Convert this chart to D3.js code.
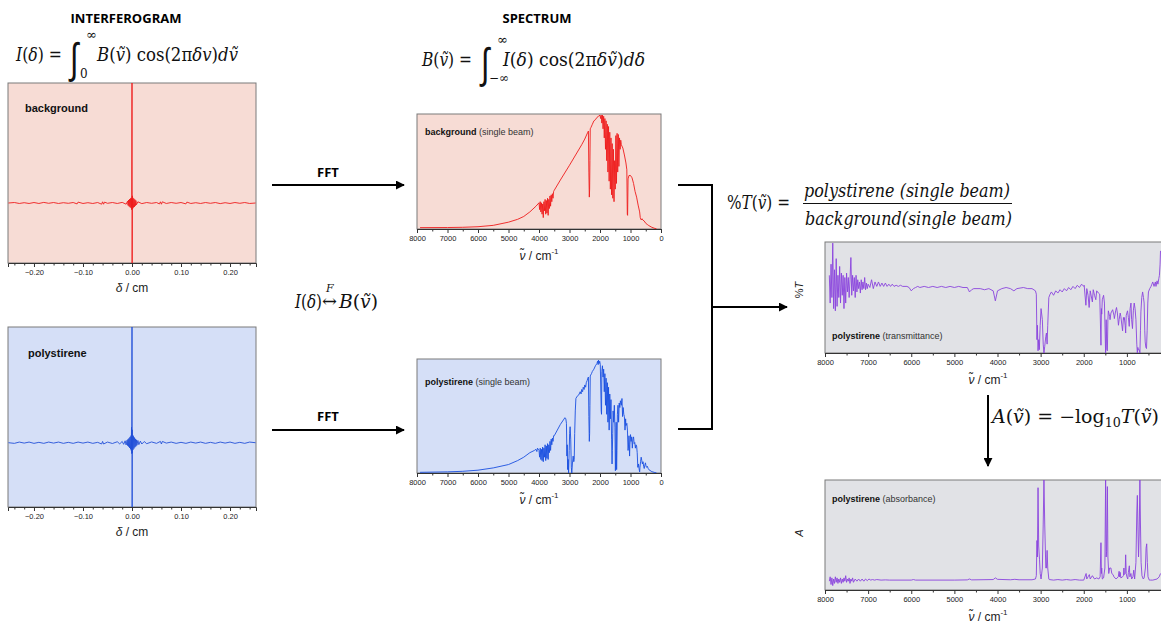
<!DOCTYPE html>
<html><head><meta charset="utf-8">
<script src="https://cdn.jsdelivr.net/npm/d3@7"></script>
<style>body{margin:0;background:#fff}svg{display:block}</style>
</head><body><svg id="c" width="1161" height="623"></svg>
<script>
// ---------------- DATA ----------------
const igramTicks = [-0.2, -0.1, 0, 0.1, 0.2];
const igramMinorTicks = [-0.24,-0.22,-0.18,-0.16,-0.14,-0.12,-0.08,-0.06,-0.04,-0.02,0.02,0.04,0.06,0.08,0.12,0.14,0.16,0.18,0.22,0.24];
const wnTicks = [8000,7000,6000,5000,4000,3000,2000,1000,0];
const wnTicksCut = [8000,7000,6000,5000,4000,3000,2000,1000];
const wnMinorTicks = [7500,6500,5500,4500,3500,2500,1500,500];

// interferogram of background (delta in cm, relative intensity)
const bgInterferogram = [
[-0.252,0],[-0.24,0.008],[-0.23,-0.008],[-0.22,0.005],[-0.21,-0.008],[-0.20,0.008],[-0.19,-0.008],[-0.18,0.01],[-0.17,-0.005],[-0.16,0.008],
[-0.15,-0.008],[-0.14,0.005],[-0.13,-0.005],[-0.12,0.008],[-0.112,-0.015],[-0.11,0.015],[-0.10,-0.008],[-0.09,0.005],[-0.08,-0.008],[-0.07,0.008],
[-0.062,-0.02],[-0.06,0.02],[-0.058,-0.02],[-0.056,0.015],[-0.05,-0.005],[-0.04,0.008],[-0.03,-0.008],[-0.02,0.01],[-0.012,-0.02],[-0.009,0.03],
[-0.008,-0.04],[-0.007,0.05],[-0.006,-0.055],[-0.005,0.065],[-0.004,-0.07],[-0.003,0.075],[-0.002,-0.08],[-0.0015,0.085],[-0.001,-0.11],[-0.0005,0.13],
[0,2.0],[0.0003,-1.0],[0.0008,0.12],[0.0012,-0.1],[0.002,0.085],[0.003,-0.075],[0.004,0.07],[0.005,-0.065],[0.006,0.055],[0.007,-0.045],
[0.008,0.04],[0.009,-0.03],[0.012,0.02],[0.02,-0.01],[0.03,0.008],[0.04,-0.005],[0.05,0.008],[0.056,-0.015],[0.058,0.02],[0.06,-0.02],
[0.062,0.02],[0.07,-0.008],[0.08,0.008],[0.09,-0.005],[0.10,0.008],[0.11,-0.015],[0.112,0.015],[0.12,-0.008],[0.13,0.005],[0.14,-0.008],
[0.15,0.008],[0.16,-0.005],[0.17,0.008],[0.18,-0.01],[0.19,0.005],[0.20,-0.008],[0.21,0.008],[0.22,-0.005],[0.23,0.008],[0.24,-0.008],[0.252,0]
];

// interferogram of polystyrene
const psInterferogram = [
[-0.252,0],[-0.24,-0.01],[-0.23,0.01],[-0.22,-0.006],[-0.21,0.01],[-0.20,-0.01],[-0.19,0.006],[-0.18,-0.01],[-0.17,0.01],[-0.16,-0.006],
[-0.15,0.01],[-0.14,-0.01],[-0.13,0.006],[-0.12,-0.01],[-0.11,0.01],[-0.10,-0.006],[-0.09,0.01],[-0.08,-0.01],[-0.07,0.006],[-0.062,-0.02],
[-0.06,0.02],[-0.058,-0.02],[-0.05,0.01],[-0.04,-0.012],[-0.03,0.015],[-0.025,-0.018],[-0.02,0.02],[-0.017,-0.025],[-0.014,0.03],[-0.012,-0.035],
[-0.010,0.04],[-0.009,-0.045],[-0.008,0.055],[-0.007,-0.06],[-0.006,0.07],[-0.005,-0.08],[-0.004,0.09],[-0.003,-0.1],[-0.002,0.11],[-0.0015,-0.12],
[-0.001,0.24],[-0.0005,-0.17],[0,1.8],[0.0003,-1.0],[0.0006,0.2],[0.001,-0.16],[0.0015,0.12],[0.002,-0.11],[0.003,0.1],[0.004,-0.09],
[0.005,0.08],[0.006,-0.07],[0.007,0.06],[0.008,-0.055],[0.009,0.045],[0.010,-0.04],[0.012,0.035],[0.014,-0.03],[0.017,0.025],[0.02,-0.02],
[0.025,0.018],[0.03,-0.015],[0.04,0.012],[0.05,-0.01],[0.058,0.02],[0.06,-0.02],[0.062,0.02],[0.07,-0.006],[0.08,0.01],[0.09,-0.01],
[0.10,0.006],[0.11,-0.01],[0.12,0.01],[0.13,-0.006],[0.14,0.01],[0.15,-0.01],[0.16,0.006],[0.17,-0.01],[0.18,0.01],[0.19,-0.006],
[0.20,0.01],[0.21,-0.01],[0.22,0.006],[0.23,-0.01],[0.24,0.01],[0.252,0]
];

// single-beam spectrum of background (wavenumber, relative intensity 0..1)
const bgSingleBeam = [
[7900,0.012],[7000,0.013],[6500,0.015],[6000,0.02],[5500,0.032],[5000,0.06],[4700,0.085],[4500,0.11],[4300,0.15],[4100,0.2],[4000,0.23],
[3980,0.17],[3960,0.24],[3940,0.15],[3920,0.23],[3900,0.13],[3880,0.22],[3860,0.10],[3840,0.24],[3820,0.16],[3800,0.26],[3780,0.13],
[3760,0.25],[3740,0.14],[3720,0.27],[3700,0.12],[3680,0.26],[3660,0.18],[3640,0.29],[3620,0.2],[3600,0.3],[3580,0.24],[3560,0.31],
[3540,0.27],[3520,0.33],[3500,0.34],[3300,0.43],[3000,0.56],[2800,0.65],[2600,0.74],[2500,0.79],[2400,0.85],[2380,0.86],[2365,0.5],
[2350,0.28],[2340,0.35],[2330,0.6],[2320,0.88],[2300,0.89],[2250,0.92],[2200,0.95],[2150,0.96],[2100,0.98],[2050,0.99],[2000,1.0],
[1980,0.97],[1960,1.0],[1940,0.93],[1920,1.0],[1900,0.88],[1880,0.99],[1860,0.8],[1840,0.97],[1820,0.7],[1800,0.95],[1780,0.6],
[1760,0.92],[1740,0.5],[1720,0.9],[1700,0.42],[1680,0.85],[1660,0.35],[1640,0.8],[1620,0.3],[1600,0.75],[1580,0.27],[1560,0.7],
[1540,0.24],[1520,0.6],[1500,0.35],[1480,0.82],[1460,0.4],[1440,0.84],[1420,0.5],[1400,0.83],[1380,0.55],[1360,0.8],[1340,0.7],
[1320,0.78],[1300,0.74],[1250,0.71],[1200,0.65],[1150,0.58],[1120,0.52],[1105,0.13],[1095,0.12],[1080,0.44],[1050,0.47],[1000,0.47],
[950,0.45],[900,0.4],[850,0.33],[800,0.28],[750,0.21],[700,0.15],[680,0.1],[650,0.08],[620,0.09],[600,0.08],[550,0.07],[500,0.05],
[450,0.04],[400,0.03],[300,0.015],[200,0.005],[150,0.002]
];

// single-beam spectrum of polystyrene
const psSingleBeam = [
[7900,0.006],[7000,0.01],[6500,0.015],[6000,0.025],[5500,0.045],[5000,0.075],[4700,0.11],[4500,0.14],[4300,0.18],[4150,0.2],[4100,0.21],
[4070,0.19],[4050,0.22],[4000,0.2],[3980,0.14],[3960,0.22],[3940,0.12],[3920,0.21],[3900,0.11],[3880,0.23],[3860,0.1],[3840,0.22],
[3820,0.14],[3800,0.25],[3780,0.11],[3760,0.24],[3740,0.13],[3720,0.26],[3700,0.12],[3680,0.25],[3660,0.18],[3640,0.28],[3620,0.2],
[3600,0.3],[3580,0.25],[3560,0.31],[3540,0.28],[3520,0.33],[3500,0.33],[3400,0.38],[3300,0.43],[3200,0.47],[3150,0.49],[3120,0.48],
[3100,0.44],[3085,0.15],[3075,0.25],[3060,0.03],[3045,0.12],[3030,0.0],[3010,0.2],[2995,0.35],[2980,0.41],[2960,0.3],[2940,0.05],
[2925,0.0],[2905,0.08],[2880,0.15],[2860,0.1],[2845,0.12],[2830,0.35],[2810,0.55],[2790,0.66],[2750,0.68],[2700,0.69],[2650,0.72],
[2620,0.7],[2600,0.74],[2570,0.72],[2550,0.76],[2520,0.74],[2500,0.78],[2470,0.76],[2450,0.8],[2420,0.82],[2400,0.84],[2380,0.85],
[2365,0.5],[2350,0.28],[2340,0.35],[2330,0.6],[2320,0.86],[2280,0.88],[2250,0.9],[2200,0.92],[2150,0.95],[2100,0.97],[2080,0.99],
[2060,0.96],[2050,1.0],[2030,0.97],[2010,0.99],[1990,0.96],[1960,0.55],[1950,0.52],[1940,0.9],[1920,0.95],[1900,0.85],[1880,0.92],
[1860,0.72],[1840,0.88],[1820,0.6],[1800,0.84],[1780,0.52],[1760,0.8],[1740,0.45],[1720,0.76],[1700,0.38],[1680,0.7],[1660,0.48],
[1640,0.65],[1620,0.3],[1605,0.08],[1595,0.2],[1583,0.35],[1570,0.55],[1550,0.45],[1530,0.6],[1510,0.4],[1495,0.02],[1485,0.15],
[1470,0.45],[1455,0.03],[1445,0.2],[1430,0.52],[1410,0.6],[1390,0.45],[1370,0.62],[1350,0.58],[1330,0.64],[1300,0.6],[1280,0.66],
[1260,0.5],[1240,0.58],[1220,0.52],[1200,0.5],[1180,0.38],[1160,0.48],[1150,0.42],[1120,0.44],[1100,0.38],[1080,0.2],[1070,0.22],
[1050,0.33],[1030,0.15],[1020,0.25],[1000,0.34],[980,0.28],[960,0.32],[940,0.22],[920,0.3],[900,0.32],[880,0.26],[860,0.27],
[840,0.22],[820,0.25],[800,0.24],[780,0.18],[760,0.05],[740,0.08],[720,0.04],[700,0.01],[690,0.05],[670,0.1],[650,0.14],
[630,0.11],[610,0.08],[590,0.1],[570,0.06],[550,0.04],[530,0.07],[510,0.09],[490,0.06],[470,0.05],[450,0.06],[420,0.04],
[400,0.03],[300,0.012],[200,0.004],[150,0.002]
];

// polystyrene transmittance (relative 0..1 of plot height)
const psTransmittance = [
[7900,0.7],[7880,0.45],[7860,0.8],[7840,0.5],[7820,0.99],[7800,0.4],[7780,0.75],[7760,0.38],[7740,0.85],[7720,0.42],[7700,0.7],
[7680,0.5],[7660,0.78],[7640,0.45],[7620,0.72],[7600,0.52],[7580,0.7],[7560,0.4],[7540,0.68],[7520,0.45],[7500,0.72],[7480,0.55],
[7460,0.68],[7440,0.5],[7420,0.66],[7400,0.86],[7380,0.52],[7360,0.7],[7340,0.56],[7320,0.68],[7300,0.5],[7280,0.7],[7260,0.55],
[7240,0.66],[7220,0.58],[7200,0.64],[7180,0.54],[7160,0.66],[7140,0.57],[7120,0.64],[7100,0.58],[7080,0.68],[7060,0.57],[7040,0.63],
[7020,0.58],[7000,0.62],[6960,0.59],[6920,0.66],[6880,0.58],[6840,0.64],[6800,0.6],[6760,0.64],[6720,0.6],[6680,0.63],[6640,0.6],
[6600,0.63],[6560,0.6],[6520,0.62],[6480,0.6],[6440,0.62],[6400,0.6],[6350,0.61],[6300,0.6],[6250,0.61],[6200,0.6],[6100,0.6],
[6050,0.59],[6000,0.56],[5950,0.58],[5900,0.59],[5850,0.6],[5800,0.59],[5700,0.6],[5600,0.59],[5500,0.6],[5400,0.59],[5300,0.6],
[5200,0.59],[5100,0.6],[5000,0.59],[4900,0.6],[4800,0.59],[4700,0.59],[4650,0.55],[4600,0.57],[4550,0.58],[4400,0.58],[4300,0.57],
[4200,0.58],[4100,0.56],[4050,0.47],[4000,0.56],[3900,0.58],[3800,0.59],[3700,0.58],[3620,0.56],[3550,0.58],[3400,0.59],[3300,0.58],
[3200,0.58],[3120,0.56],[3100,0.53],[3085,0.12],[3075,0.25],[3060,0.02],[3045,0.12],[3030,0.03],[3010,0.25],[2990,0.4],[2960,0.3],
[2940,0.08],[2923,0.0],[2905,0.06],[2880,0.15],[2865,0.18],[2850,0.08],[2835,0.25],[2810,0.5],[2780,0.53],[2750,0.55],[2700,0.52],
[2650,0.56],[2600,0.54],[2550,0.57],[2500,0.55],[2450,0.58],[2400,0.56],[2350,0.59],[2300,0.57],[2250,0.6],[2200,0.58],[2150,0.61],
[2100,0.59],[2050,0.62],[2000,0.6],[1990,0.61],[1950,0.43],[1930,0.58],[1900,0.52],[1875,0.41],[1850,0.56],[1800,0.46],[1780,0.57],
[1750,0.52],[1720,0.48],[1700,0.56],[1660,0.54],[1630,0.53],[1601,0.07],[1590,0.4],[1583,0.35],[1570,0.48],[1540,0.52],[1520,0.45],
[1493,0.0],[1480,0.3],[1465,0.03],[1452,0.02],[1440,0.3],[1430,0.38],[1400,0.33],[1390,0.3],[1370,0.36],[1330,0.39],[1300,0.34],
[1290,0.31],[1260,0.38],[1240,0.41],[1220,0.36],[1195,0.25],[1180,0.3],[1155,0.36],[1140,0.33],[1100,0.2],[1080,0.32],[1069,0.3],
[1060,0.32],[1040,0.25],[1028,0.18],[1015,0.34],[985,0.38],[965,0.32],[945,0.24],[925,0.4],[905,0.45],[890,0.3],[870,0.22],
[850,0.38],[830,0.45],[810,0.4],[790,0.3],[770,0.08],[757,0.0],[745,0.05],[735,0.03],[715,0.03],[698,0.0],[685,0.2],[675,0.37],
[655,0.5],[635,0.55],[615,0.5],[600,0.45],[585,0.2],[575,0.1],[560,0.05],[545,0.04],[530,0.2],[515,0.45],[500,0.55],[470,0.58],
[440,0.6],[420,0.62],[400,0.64],[370,0.6],[340,0.64],[325,0.6],[300,0.65],[280,0.62],[260,0.67],[245,0.7],[230,0.8],[220,0.92]
];

// polystyrene absorbance (relative 0..1 of plot height)
const psAbsorbance = [
[7900,0.08],[7880,0.12],[7860,0.05],[7840,0.11],[7820,0.04],[7800,0.1],[7780,0.06],[7760,0.12],[7740,0.07],[7720,0.11],[7700,0.06],
[7680,0.1],[7660,0.07],[7640,0.11],[7620,0.06],[7600,0.1],[7580,0.07],[7560,0.11],[7540,0.08],[7520,0.13],[7500,0.07],[7480,0.1],
[7460,0.08],[7440,0.11],[7420,0.06],[7400,0.1],[7380,0.08],[7360,0.11],[7340,0.07],[7300,0.1],[7260,0.08],[7220,0.1],[7180,0.08],
[7140,0.1],[7100,0.08],[7060,0.1],[7020,0.085],[6980,0.1],[6940,0.09],[6900,0.095],[6850,0.09],[6800,0.095],[6700,0.09],[6600,0.092],
[6500,0.09],[6000,0.09],[5950,0.095],[5900,0.09],[5000,0.09],[4700,0.092],[4650,0.1],[4600,0.092],[4100,0.095],[4050,0.11],[4000,0.097],
[3700,0.093],[3600,0.097],[3500,0.093],[3200,0.093],[3120,0.1],[3100,0.13],[3085,0.45],[3075,0.3],[3060,0.93],[3045,0.4],[3030,0.3],
[3026,0.28],[3010,0.15],[2990,0.1],[2960,0.2],[2940,0.6],[2923,1.0],[2905,0.6],[2880,0.2],[2865,0.2],[2850,0.36],[2835,0.2],[2810,0.1],
[2800,0.095],[2700,0.09],[2600,0.095],[2500,0.09],[2400,0.095],[2300,0.09],[2200,0.095],[2100,0.09],[2000,0.09],[1945,0.15],[1930,0.1],
[1900,0.12],[1870,0.14],[1850,0.1],[1800,0.13],[1750,0.1],[1700,0.11],[1650,0.1],[1620,0.12],[1601,0.43],[1590,0.15],[1583,0.2],
[1570,0.1],[1540,0.11],[1510,0.2],[1493,1.0],[1480,0.3],[1470,0.35],[1452,0.94],[1440,0.3],[1420,0.15],[1400,0.2],[1370,0.2],
[1350,0.15],[1320,0.14],[1300,0.12],[1250,0.1],[1200,0.12],[1180,0.17],[1170,0.12],[1155,0.16],[1140,0.11],[1100,0.12],[1080,0.13],
[1069,0.2],[1060,0.14],[1040,0.15],[1028,0.32],[1015,0.15],[1000,0.12],[980,0.1],[965,0.16],[943,0.22],[930,0.12],[906,0.15],
[890,0.1],[860,0.12],[841,0.18],[820,0.1],[790,0.25],[770,0.7],[757,0.86],[745,0.6],[730,0.3],[715,0.5],[698,1.0],[685,0.6],
[670,0.25],[650,0.13],[620,0.1],[600,0.11],[570,0.2],[555,0.38],[540,0.42],[525,0.25],[510,0.12],[480,0.09],[450,0.09],[400,0.09],
[300,0.1],[250,0.12],[220,0.15]
];

// ---------------- DRAWING ----------------
const svg = d3.select('#c');
const SANS = "'Liberation Sans', Arial, sans-serif";
const SERIF = "'DejaVu Serif', serif";
const defs = svg.append('defs');
defs.append('marker').attr('id','ah').attr('viewBox','0 0 10 10').attr('refX',9).attr('refY',5)
  .attr('markerWidth',4.5).attr('markerHeight',4.5).attr('orient','auto')
  .append('path').attr('d','M0,0 L10,5 L0,10 z').attr('fill','#000');

let clipN = 0;
function panel(c){
  const xs = d3.scaleLinear().domain(c.xDomain).range([c.x0, c.x1]);
  const ys = d3.scaleLinear().domain(c.yDomain).range([c.y1, c.y0]);
  const g = svg.append('g');
  g.append('rect').attr('x',c.x0).attr('y',c.y0).attr('width',c.x1-c.x0).attr('height',c.y1-c.y0)
    .attr('fill',c.fill).attr('stroke','#7a7a7a').attr('stroke-width',1);
  const id = 'clip'+(clipN++);
  defs.append('clipPath').attr('id',id).append('rect')
    .attr('x',c.x0).attr('y',c.y0).attr('width',c.x1-c.x0).attr('height',c.y1-c.y0);
  g.append('path').datum(c.data).attr('clip-path',`url(#${id})`)
    .attr('d', d3.line().x(d=>xs(d[0])).y(d=>ys(d[1])))
    .attr('fill','none').attr('stroke',c.color).attr('stroke-width',c.lw||1).attr('stroke-linejoin','round');
  const ax = g.append('g').attr('transform',`translate(0,${c.y1})`)
    .call(d3.axisBottom(xs).tickValues(c.majors).tickSize(4).tickPadding(3).tickFormat(c.fmt));
  ax.select('.domain').attr('stroke','#333');
  ax.selectAll('.tick line').attr('stroke','#333');
  ax.selectAll('text').attr('font-family',SANS).attr('font-size',7.5).attr('fill','#222');
  const mx = g.append('g').attr('transform',`translate(0,${c.y1})`)
    .call(d3.axisBottom(xs).tickValues(c.minors).tickSize(2.5).tickFormat(''));
  mx.select('.domain').remove();
  mx.selectAll('.tick line').attr('stroke','#333');
  const cx = c.titleX !== undefined ? c.titleX : (c.x0+c.x1)/2;
  const t = g.append('text').attr('x',cx).attr('y',c.y1+c.titleDy).attr('text-anchor','middle')
    .attr('font-family',SANS).attr('font-size',12).attr('fill','#222');
  c.title(t);
  const l = g.append('text').attr('x',c.labelX).attr('y',c.labelY).attr('font-family',SANS).attr('fill','#111');
  l.append('tspan').attr('font-weight','bold').attr('font-size',c.labelBoldSize).text(c.labelBold);
  if (c.labelRest) l.append('tspan').attr('font-size',c.labelBoldSize).attr('fill','#333').text(c.labelRest);
  return {xs, ys};
}
const deltaTitle = t => { t.append('tspan').attr('font-style','italic').text('δ'); t.append('tspan').text(' / cm'); };
const nuTitle = t => {
  t.append('tspan').attr('font-style','italic').text('ν̃');
  t.append('tspan').text(' / cm');
  t.append('tspan').attr('font-size',8).attr('dy',-6).text('-1');
};
const igFmt = d => d3.format('.2f')(d);
const wnFmt = d => String(d);

panel({x0:8,x1:256,y0:83,y1:263,xDomain:[-0.253,0.253],yDomain:[-1,2],fill:'#f7dcd5',data:bgInterferogram,
  color:'#ee1c1c',lw:0.9,majors:igramTicks,minors:igramMinorTicks,fmt:igFmt,title:deltaTitle,titleDy:29,
  labelX:25,labelY:112,labelBold:'background',labelBoldSize:11});
panel({x0:8,x1:256,y0:327,y1:507,xDomain:[-0.253,0.253],yDomain:[-1,1.8],fill:'#d5dff7',data:psInterferogram,
  color:'#2350d8',lw:0.9,majors:igramTicks,minors:igramMinorTicks,fmt:igFmt,title:deltaTitle,titleDy:29,
  labelX:28,labelY:357,labelBold:'polystirene',labelBoldSize:11});
panel({x0:417,x1:661,y0:114,y1:229,xDomain:[8000,0],yDomain:[0,1.01],fill:'#f7dcd5',data:bgSingleBeam,
  color:'#ee1c1c',lw:0.9,majors:wnTicks,minors:wnMinorTicks,fmt:wnFmt,title:nuTitle,titleDy:31,
  labelX:425,labelY:135,labelBold:'background',labelRest:' (single beam)',labelBoldSize:9});
panel({x0:417,x1:661,y0:359,y1:473,xDomain:[8000,0],yDomain:[0,1.01],fill:'#d5dff7',data:psSingleBeam,
  color:'#1a4fe0',lw:0.9,majors:wnTicks,minors:wnMinorTicks,fmt:wnFmt,title:nuTitle,titleDy:31,
  labelX:425,labelY:385,labelBold:'polystirene',labelRest:' (single beam)',labelBoldSize:9});
panel({x0:825,x1:1170,y0:242,y1:353,xDomain:[8000,0],yDomain:[0,1],fill:'#e1e2e6',data:psTransmittance,
  color:'#8a44de',lw:0.9,majors:wnTicksCut,minors:wnMinorTicks,fmt:wnFmt,title:nuTitle,titleDy:31,titleX:988,
  labelX:832,labelY:339,labelBold:'polystirene',labelRest:' (transmittance)',labelBoldSize:9});
panel({x0:825,x1:1170,y0:480,y1:590,xDomain:[8000,0],yDomain:[0,1],fill:'#e1e2e6',data:psAbsorbance,
  color:'#8a44de',lw:0.9,majors:wnTicksCut,minors:wnMinorTicks,fmt:wnFmt,title:nuTitle,titleDy:31,titleX:988,
  labelX:832,labelY:502,labelBold:'polystirene',labelRest:' (absorbance)',labelBoldSize:9});

// y labels
svg.append('text').attr('transform','translate(803,290) rotate(-90)').attr('text-anchor','middle')
  .attr('font-family',SANS).attr('font-size',11).attr('fill','#222')
  .call(t=>{t.append('tspan').text('%'); t.append('tspan').attr('font-style','italic').text('T');});
svg.append('text').attr('transform','translate(803,533) rotate(-90)').attr('text-anchor','middle')
  .attr('font-family',SANS).attr('font-size',11).attr('font-style','italic').attr('fill','#222').text('A');

// headings
const HEAD = "'Open Sans', 'Noto Sans', sans-serif";
svg.append('text').attr('x',126).attr('y',23).attr('text-anchor','middle').attr('font-family',HEAD)
  .attr('font-weight','bold').attr('font-size',13).attr('textLength',111).attr('lengthAdjust','spacingAndGlyphs').text('INTERFEROGRAM');
svg.append('text').attr('x',537).attr('y',23).attr('text-anchor','middle').attr('font-family',HEAD)
  .attr('font-weight','bold').attr('font-size',13).attr('textLength',69).attr('lengthAdjust','spacingAndGlyphs').text('SPECTRUM');
[177,421].forEach(y=>svg.append('text').attr('x',328).attr('y',y).attr('text-anchor','middle').attr('font-family',HEAD)
  .attr('font-weight','bold').attr('font-size',13).text('FFT'));

// arrows & bracket
const arrow = (x1,y1,x2,y2)=>svg.append('line').attr('x1',x1).attr('y1',y1).attr('x2',x2).attr('y2',y2)
  .attr('stroke','#000').attr('stroke-width',2).attr('marker-end','url(#ah)');
arrow(272,185,404,185);
arrow(272,430,404,430);
arrow(712,307,787,307);
arrow(988,395,988,466);
svg.append('path').attr('d','M678,185 H712 V429 H678').attr('fill','none').attr('stroke','#000').attr('stroke-width',2);

// equations
function mtext(x,y,size,parts,len){
  const t = svg.append('text').attr('x',x).attr('y',y).attr('font-family',SERIF).attr('font-size',size).attr('fill','#111');
  parts.forEach(p=>{ const s=t.append('tspan').text(p[0]); if(p[1]) s.attr('font-style','italic'); if(p[2]) s.attr('font-size',p[2]); if(p[3]) s.attr('dy',p[3]); });
  if(len) t.attr('textLength',len).attr('lengthAdjust','spacingAndGlyphs');
  return t;
}
function integral(x,y){
  return svg.append('text').attr('transform',`translate(${x},${y}) scale(0.9,1.25)`).attr('font-family',"'DejaVu Sans', sans-serif")
    .attr('font-weight',200).attr('font-size',34).attr('fill','#111').text('∫');
}
// eq1
mtext(16,61,18,[['I',1],['(',0],['δ',1],[') =',0]],46);
integral(70,73);
mtext(86,39,13,[['∞',0]]);
mtext(80,78,12,[['0',0]]);
mtext(97,61,18,[['B',1],['(',0],['ṽ',1],[') cos(2π',0],['δv',1],[')',0],['d',1],['ṽ',1]],141);
// eq2
mtext(422,66,18,[['B',1],['(',0],['ṽ',1],[') =',0]],50);
integral(481,78);
mtext(497,44,13,[['∞',0]]);
mtext(489,82,12,[['−∞',0]]);
mtext(503,66,18,[['I',1],['(',0],['δ',1],[') cos(2π',0],['δṽ',1],[')',0],['dδ',1]],142);
// eq3
mtext(727,209,18,[['%',0],['T',1],['(',0],['ṽ',1],[') =',0]],63);
mtext(804,197,18,[['polystirene (single beam)',1]],206);
svg.append('line').attr('x1',803).attr('x2',1012).attr('y1',203.5).attr('y2',203.5).attr('stroke','#111').attr('stroke-width',1);
mtext(805,225,18,[['background(single beam)',1]],207);
// eq4
mtext(295,308,18,[['I',1],['(',0],['δ',1],[')',0]],27);
mtext(322,307,17,[['↔',0]],15);
mtext(339,308,18,[['B',1],['(',0],['ṽ',1],[')',0]],39);
mtext(326,292,11,[['F',1]]);
// eq5
mtext(992,423,18,[['A',1],['(',0],['ṽ',1],[') = −log',0],['10',0,12,4],['T',1,18,-4],['(',0],['ṽ',1],[')',0]],167);
</script></body></html>
